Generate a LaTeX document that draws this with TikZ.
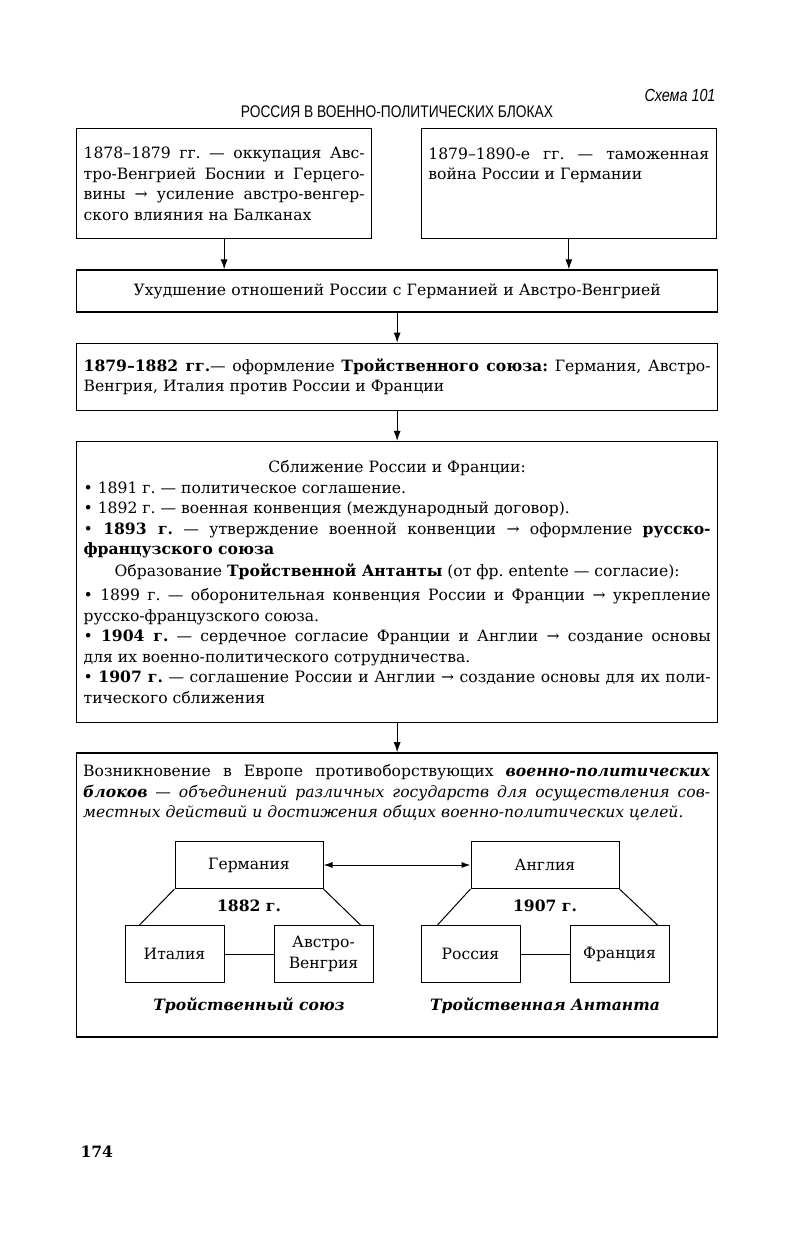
\documentclass[tikz,border=0pt]{standalone}
\usepackage{fontspec}
\setmainfont{DejaVu Serif}
\newfontfamily\headfont[FakeStretch=0.82]{Liberation Sans}
\usetikzlibrary{arrows.meta, positioning, calc}
\setlength{\parindent}{0pt}
\tolerance=10000
\frenchspacing
\newcommand{\bodysize}{\fontsize{15.6pt}{20.5pt}\selectfont}

\begin{document}
\begin{tikzpicture}[
    x=1pt, y=-1pt,
    node distance=30pt,
    every node/.style={font=\bodysize},
    bigbox/.style={
        rectangle,
        draw,
        line width=1.3pt,
        inner xsep=7pt,
        inner ysep=4pt,
        align=justify,
        text width=#1
    },
    statebox/.style={
        rectangle,
        draw,
        line width=1pt,
        minimum width=99pt,
        minimum height=57pt,
        inner sep=2pt,
        align=center
    },
    powerbox/.style={
        statebox,
        minimum width=148pt,
        minimum height=47pt
    },
    arrow/.style={
        -{Latex[length=10pt, width=7pt]},
        line width=1pt
    },
    link/.style={line width=1pt},
    yearlabel/.style={font=\bodysize\bfseries},
    blocname/.style={font=\bodysize\bfseries\itshape}
]
\useasboundingbox (0,0) rectangle (791,1245);

% Title
\node[font=\headfont\fontsize{16.8pt}{19pt}\selectfont] (title) at (397,112) {РОССИЯ В ВОЕННО-ПОЛИТИЧЕСКИХ БЛОКАХ};
\node[font=\headfont\itshape\fontsize{17.5pt}{19pt}\selectfont, anchor=east] (schema) at (719,95) {Схема 101};

% Causes
\node[bigbox=281pt, minimum height=110pt, anchor=north west] (occup) at (76,128) {1878–1879 гг. — оккупация Авс-\linebreak тро-Венгрией Боснии и Герцего-\linebreak вины → усиление австро-венгер-\linebreak ского влияния на Балканах};
\node[bigbox=281pt, minimum height=110pt, text depth=60pt, anchor=north east] (tariff) at (717,128) {1879–1890-е гг. — таможенная\linebreak война России и Германии};

% Chain of boxes
\node[bigbox=627pt, minimum height=42pt, align=center, below=30pt of occup.south west, anchor=north west] (worse) {Ухудшение отношений России с Германией и Австро-Венгрией};
\node[bigbox=627pt, minimum height=67pt, below=30pt of worse] (triple) {\textbf{1879–1882 гг.}— оформление \textbf{Тройственного союза:} Германия, Австро-\linebreak Венгрия, Италия против России и Франции};
\node[bigbox=627pt, minimum height=281pt, below=30pt of triple] (rapproch) {%
{\centering Сближение России и Франции:\par}
• 1891 г. — политическое соглашение.\par
• 1892 г. — военная конвенция (международный договор).\par
• \textbf{1893 г.} — утверждение военной конвенции → оформление \textbf{русско-}\linebreak \textbf{французского союза}\par
\vspace{1pt}{\centering Образование \textbf{Тройственной Антанты} (от фр. entente — согласие):\par}\vspace{4pt}
• 1899 г. — оборонительная конвенция России и Франции → укрепление\linebreak русско-французского союза.\par
• \textbf{1904 г.} — сердечное согласие Франции и Англии → создание основы\linebreak для их военно-политического сотрудничества.\par
• \textbf{1907 г.} — соглашение России и Англии → создание основы для их поли-\linebreak тического сближения};
\node[bigbox=627pt, minimum height=284pt, below=29pt of rapproch] (blocs) {};
\node[anchor=north west, text width=627pt, inner xsep=7pt, inner ysep=0pt, align=justify] (blocsnote) at ([yshift=-12pt]blocs.north west) {Возникновение в Европе противоборствующих \textbf{\textit{военно-политических}}\linebreak \textbf{\textit{блоков}} — \textit{объединений различных государств для осуществления сов-}\linebreak \textit{местных действий и достижения общих военно-политических целей.}};

% Blocs
\node[powerbox] (germ) at (249,865) {Германия};
\node[powerbox, right=147pt of germ] (engl) {Англия};
\node[statebox, below=36pt of germ.south west] (ital) {Италия};
\node[statebox, below=36pt of germ.south east] (austr) {Австро-\\Венгрия};
\node[statebox, below=36pt of engl.south west] (russ) {Россия};
\node[statebox, below=36pt of engl.south east] (fran) {Франция};
\node[yearlabel, below=7pt of germ] (y1882) {1882 г.};
\node[yearlabel, below=7pt of engl] (y1907) {1907 г.};
\node[blocname] (alliance) at ($(ital.south)!0.5!(austr.south)+(0,23)$) {Тройственный союз};
\node[blocname] (entente) at ($(russ.south)!0.5!(fran.south)+(0,23)$) {Тройственная Антанта};

% Page number
\node[font=\bodysize\bfseries, anchor=west] (pagenum) at (77,1152) {174};

% Arrows
\draw[arrow] (occup.south) -- (occup.south |- worse.north);
\draw[arrow] (tariff.south) -- (tariff.south |- worse.north);
\draw[arrow] (worse) -- (triple);
\draw[arrow] (triple) -- (rapproch);
\draw[arrow] (rapproch) -- (blocs);

% Links between the powers
\draw[{Latex[length=9pt, width=6pt]}-{Latex[length=9pt, width=6pt]}, link] (germ) -- (engl);
\draw[link] (germ.south west) -- ([xshift=15pt]ital.north west);
\draw[link] (germ.south east) -- ([xshift=-13pt]austr.north east);
\draw[link] (engl.south west) -- ([xshift=17pt]russ.north west);
\draw[link] (engl.south east) -- ([xshift=-12pt]fran.north east);
\draw[link] (ital) -- (austr);
\draw[link] (russ) -- (fran);

\end{tikzpicture}
\end{document}
